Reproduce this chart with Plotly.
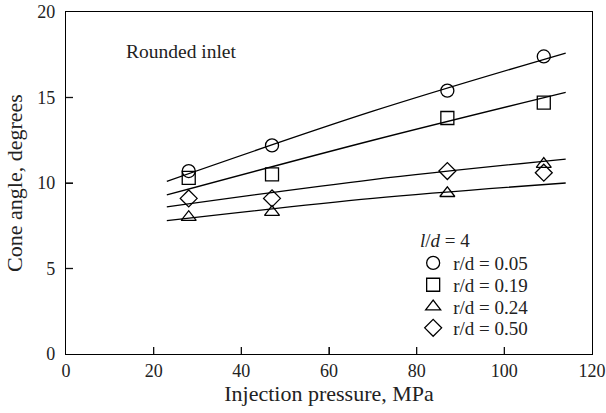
import plotly.graph_objects as go

# measured points
pressure = [28, 47, 87, 109]
r005 = [10.7, 12.2, 15.4, 17.4]
r019 = [10.3, 10.5, 13.8, 14.7]
r024 = [8.0, 8.3, 9.4, 11.1]
r050 = [9.1, 9.1, 10.7, 10.6]

# fitted curves as drawn (start, middle, end)
fit_x = [23, 70, 114]
fit005 = [10.1, 14.2, 17.6]
fit019 = [9.3, 12.5, 15.3]
fit024 = [7.8, 9.1, 10.0]
fit050 = [8.6, 10.2, 11.4]

x_ticks = [0, 20, 40, 60, 80, 100, 120]
y_ticks = [0, 5, 10, 15, 20]

labels = ["r/d = 0.05", "r/d = 0.19", "r/d = 0.24", "r/d = 0.50"]
symbols = ["circle-open", "square-open", "triangle-up-open", "diamond-open"]

FONT = "Liberation Serif"

fig = go.Figure()

for fy in [fit005, fit019, fit024, fit050]:
    fig.add_trace(go.Scatter(x=fit_x, y=fy, mode="lines", line_shape="spline",
                             line=dict(color="black", width=1.3), showlegend=False))

# one small legend per series so the rows can sit close together
legend_ids = ["legend", "legend2", "legend3", "legend4"]
for ys, name, sym, lg in zip([r005, r019, r024, r050], labels, symbols, legend_ids):
    fig.add_trace(go.Scatter(x=pressure, y=ys, mode="markers", name=name, legend=lg,
                             marker=dict(symbol=sym, size=13, color="black",
                                         line=dict(width=1.3, color="black"))))

fig.add_annotation(x=13.2, y=17.7, xanchor="left", showarrow=False,
                   text="Rounded inlet", font=dict(family=FONT, size=19.5, color="#222"))
fig.add_annotation(x=0.669, y=0.333, xref="paper", yref="paper", xanchor="left",
                   yanchor="middle", showarrow=False, text="<i>l</i>/<i>d</i> = 4",
                   font=dict(family=FONT, size=19, color="#222"))

# inward tick marks, drawn as short pixel-sized lines at the tick values
for xv in x_ticks[1:-1]:
    fig.add_shape(type="line", xref="x", yref="paper", x0=xv, x1=xv,
                  ysizemode="pixel", yanchor=0, y0=0, y1=7,
                  line=dict(color="#111", width=1.3))
for yv in y_ticks[1:-1]:
    fig.add_shape(type="line", xref="paper", yref="y", y0=yv, y1=yv,
                  xsizemode="pixel", xanchor=0, x0=0, x1=7,
                  line=dict(color="#111", width=1.3))

row_y = [0.266, 0.202, 0.138, 0.076]
leg_style = dict(x=0.66, xanchor="left", yanchor="middle", bgcolor="rgba(0,0,0,0)",
                 font=dict(family=FONT, size=19, color="#222"), itemwidth=30)
fig.update_layout({lg: dict(y=yy, **leg_style) for lg, yy in zip(legend_ids, row_y)})

fig.update_layout(
    width=606, height=413,
    margin=dict(l=66, r=14, t=12, b=59),
    plot_bgcolor="white", paper_bgcolor="white",
    font=dict(family=FONT, size=18, color="#222"),
    xaxis=dict(range=[0, 120], tickvals=x_ticks,
               ticks="inside", ticklen=7, tickwidth=1.3, tickcolor="#111",
               automargin=False,
               showline=True, linecolor="black", linewidth=1.2, mirror=True,
               showgrid=False,
               title=dict(text="Injection pressure, MPa", standoff=2)),
    yaxis=dict(range=[0, 20], tickvals=y_ticks,
               ticks="inside", ticklen=7, tickwidth=1.3, tickcolor="#111",
               automargin=False, ticklabelstandoff=6,
               showline=True, linecolor="black", linewidth=1.2, mirror=True,
               showgrid=False,
               title=dict(text="Cone angle, degrees", standoff=8)),
)

fig.write_html("out.html", config={"displayModeBar": False},
               post_script="document.body.style.margin='0';")
